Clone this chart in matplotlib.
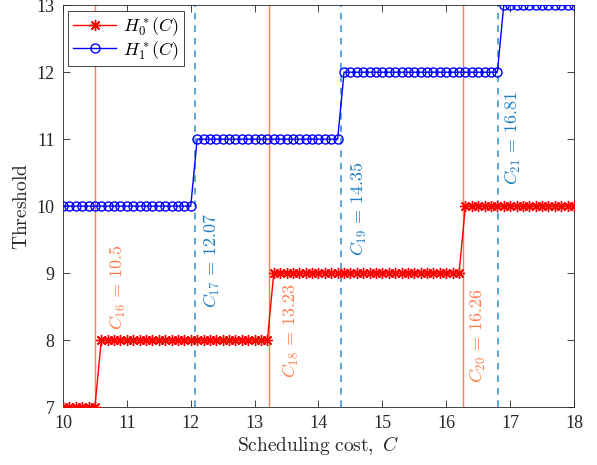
import numpy as np
import matplotlib
matplotlib.use('Agg')
import matplotlib.pyplot as plt

plt.rcParams['mathtext.fontset'] = 'cm'
plt.rcParams['font.family'] = ['Liberation Serif', 'DejaVu Serif']

# scheduling cost grid (step 0.1) and the two threshold curves
cost = np.linspace(10, 18, 81)
h0 = [7, 7, 7, 7, 7, 7,
      8, 8, 8, 8, 8, 8, 8, 8, 8, 8, 8, 8, 8, 8, 8, 8, 8, 8, 8, 8, 8, 8, 8, 8, 8, 8, 8,
      9, 9, 9, 9, 9, 9, 9, 9, 9, 9, 9, 9, 9, 9, 9, 9, 9, 9, 9, 9, 9, 9, 9, 9, 9, 9, 9, 9, 9, 9,
      10, 10, 10, 10, 10, 10, 10, 10, 10, 10, 10, 10, 10, 10, 10, 10, 10, 10]
h1 = [10, 10, 10, 10, 10, 10, 10, 10, 10, 10, 10, 10, 10, 10, 10, 10, 10, 10, 10, 10, 10,
      11, 11, 11, 11, 11, 11, 11, 11, 11, 11, 11, 11, 11, 11, 11, 11, 11, 11, 11, 11, 11, 11, 11,
      12, 12, 12, 12, 12, 12, 12, 12, 12, 12, 12, 12, 12, 12, 12, 12, 12, 12, 12, 12, 12, 12, 12, 12, 12,
      13, 13, 13, 13, 13, 13, 13, 13, 13, 13, 13, 13]

# switching costs
c_vals = [10.5, 12.07, 13.23, 14.35, 16.26, 16.81]
c_idx = ['16', '17', '18', '19', '20', '21']
c_txt = ['10.5', '12.07', '13.23', '14.35', '16.26', '16.81']

# where the rotated labels sit (x centre, y start)
lab_x = [10.86, 12.33, 13.57, 14.64, 16.50, 17.04]
lab_y = [8.15, 8.48, 7.43, 9.25, 7.36, 10.31]

orange = '#FF7F4F'
lblue = '#3E98D3'

fig = plt.figure(figsize=(5.97, 4.65), dpi=100)
ax = fig.add_axes([0.1055, 0.1247, 0.856, 0.864])

for i, c in enumerate(c_vals):
    if i % 2 == 0:
        ax.axvline(c, color=orange, lw=1.0, zorder=1)
        col = orange
    else:
        ax.axvline(c, color=lblue, lw=1.2, ls=(0, (4, 3.5)), zorder=1)
        col = '#1F7FC4'
    ax.text(lab_x[i], lab_y[i], r'$C_{%s}\,=\,%s$' % (c_idx[i], c_txt[i]),
            rotation=90, ha='center', va='bottom', color=col, fontsize=13)

ax.plot(cost, h0, '-', marker=(8, 2, 0), color='red', lw=1.0, ms=8, mew=1.0,
        label=r'$H_0^*(C)$', zorder=3)
ax.plot(cost, h1, '-o', color='blue', lw=1.0, ms=6.5, mew=1.0, mfc='none',
        label=r'$H_1^*(C)$', zorder=3)

ax.set_xlim(10, 18)
ax.set_ylim(7, 13)
ax.set_xticks(range(10, 19))
ax.set_yticks(range(7, 14))
ax.tick_params(direction='in', top=True, right=True, length=5, width=0.6,
               colors='#262626', labelsize=13)
ax.tick_params(axis='x', pad=6)
ax.tick_params(axis='y', pad=6)
for s in ax.spines.values():
    s.set_color('#262626')
    s.set_linewidth(0.6)

ax.set_xlabel(r'$\mathrm{Scheduling\ cost,}\ C$', fontsize=14, color='#262626', labelpad=1)
ax.set_ylabel(r'$\mathrm{Threshold}$', fontsize=14, color='#262626', labelpad=4)

leg = ax.legend(loc='upper left', fontsize=13, fancybox=False, framealpha=1,
                edgecolor='#262626', borderpad=0.25, handlelength=2.4,
                labelspacing=0.05, borderaxespad=0.3, handletextpad=0.4)
leg.get_frame().set_linewidth(0.6)

fig.savefig('out.png', dpi=100)
